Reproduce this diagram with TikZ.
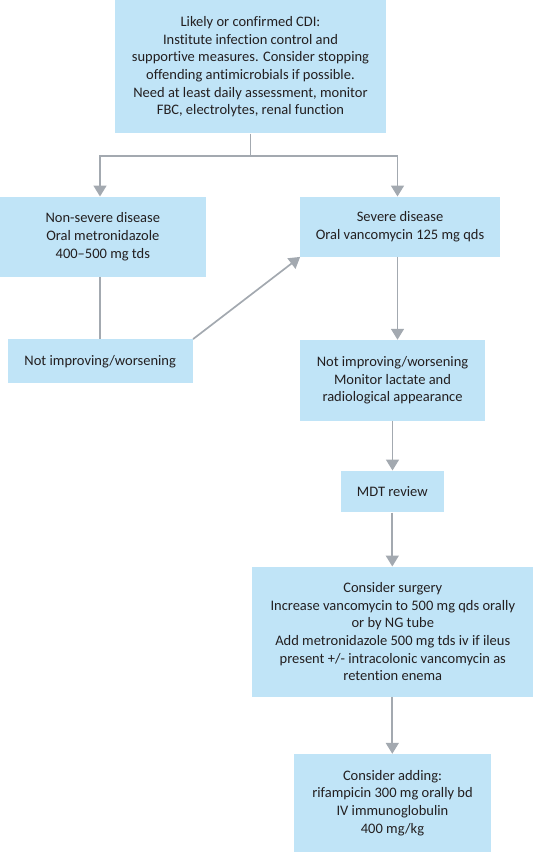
\documentclass[tikz,border=0pt]{standalone}
\usepackage{fontspec}
\setmainfont{Carlito}[Ligatures={NoCommon}]
\usetikzlibrary{arrows.meta}
\definecolor{boxblue}{RGB}{192,228,247}
\definecolor{linegrey}{RGB}{163,169,176}
\definecolor{txt}{RGB}{35,31,32}
\tikzset{
  box/.style={fill=boxblue, draw=none, inner sep=0pt, align=center, text=txt,
    font=\fontsize{14.5}{17.7}\selectfont},
  conn/.style={draw=linegrey, line width=1.7pt},
  arr/.style={conn, -{Triangle[width=13pt,length=11pt]}},
}
\begin{document}
\begin{tikzpicture}[x=1pt,y=-1pt]
\useasboundingbox (0,0) rectangle (534,852);
\node[box, minimum width=271pt, minimum height=133.3pt] (top) at (250.5,66.7)
  {Likely or confirmed CDI:\\Institute infection control and\\supportive measures. Consider stopping\\offending antimicrobials if possible.\\Need at least daily assessment, monitor\\FBC, electrolytes, renal function};
\node[box, minimum width=205.7pt, minimum height=80pt] (nonsev) at (102.8,236.7)
  {Non-severe disease\\Oral metronidazole\\400--500 mg tds};
\node[box, minimum width=199.3pt, minimum height=60pt] (sev) at (400,226.7)
  {Severe disease\\Oral vancomycin 125 mg qds};
\node[box, minimum width=185.3pt, minimum height=44pt] (notimpL) at (100.2,361.3)
  {Not improving/worsening};
\node[box, minimum width=185.7pt, minimum height=80.7pt] (notimpR) at (392.5,380.3)
  {Not improving/worsening\\Monitor lactate and\\radiological appearance};
\node[box, minimum width=102.7pt, minimum height=41.6pt] (mdt) at (392.3,491.5)
  {MDT review};
\node[box, minimum width=281pt, minimum height=130pt] (surg) at (392.8,631.7)
  {Consider surgery\\Increase vancomycin to 500 mg qds orally\\or by NG tube\\Add metronidazole 500 mg tds iv if ileus\\present +/- intracolonic vancomycin as\\retention enema};
\node[box, minimum width=196.4pt, minimum height=98pt] (last) at (392.5,803)
  {Consider adding:\\rifampicin 300 mg orally bd\\IV immunoglobulin\\400 mg/kg};
\coordinate (br) at (250.5,156);
\coordinate (bl) at (100,156);
\coordinate (brr) at (397.5,156);
\draw[conn] (top.south) -- (br);
\draw[arr] (br) -| (bl |- nonsev.north);
\draw[arr] (br) -| (brr |- sev.north);
\draw[conn] (bl |- nonsev.south) -- (bl |- notimpL.north);
\draw[arr] (notimpL.north east) -- (sev.south west);
\draw[arr] (brr |- sev.south) -- (brr |- notimpR.north);
\draw[arr] (notimpR.south) -- (notimpR.south |- mdt.north);
\draw[arr] (mdt.south) -- (mdt.south |- surg.north);
\draw[arr] (mdt.south |- surg.south) -- (mdt.south |- last.north);
\end{tikzpicture}
\end{document}
